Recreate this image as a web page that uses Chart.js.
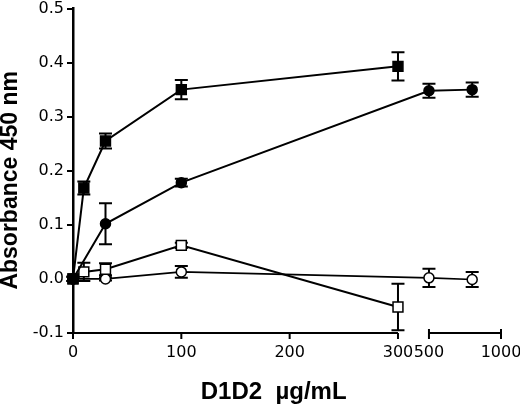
<!DOCTYPE html>
<html>
<head>
<meta charset="utf-8">
<script src="https://cdn.jsdelivr.net/npm/chart.js@4.4.0/dist/chart.umd.min.js"></script>
<style>
  html, body { margin: 0; padding: 0; background: #fff; }
  #wrap { width: 520px; height: 408px; }
</style>
</head>
<body>
<div id="wrap"><canvas id="chart"></canvas></div>
<script>
// D1D2 dose curves, absorbance at 450 nm. x axis is broken between 300 and 500.

const X_TICKS = [0, 100, 200, 300, 500, 1000];
const X_SEGMENTS = [[0, 300], [500, 1000]];
const Y_MIN = -0.1, Y_MAX = 0.5, Y_STEP = 0.1;

// filled squares
const filledSqX = [0, 10, 30, 100, 300];
const filledSqY = [0.000, 0.168, 0.255, 0.350, 0.393];
const filledSqErr = [0.004, 0.012, 0.014, 0.018, 0.026];

// filled circles
const filledCirX = [0, 30, 100, 500, 800];
const filledCirY = [0.000, 0.102, 0.178, 0.348, 0.350];
const filledCirErr = [0.004, 0.038, 0.007, 0.013, 0.013];

// open squares
const openSqX = [0, 10, 30, 100, 300];
const openSqY = [0.000, 0.013, 0.018, 0.062, -0.052];
const openSqErr = [0.004, 0.017, 0.011, 0.005, 0.043];

// open circles
const openCirX = [0, 30, 100, 500, 800];
const openCirY = [0.000, 0.000, 0.013, 0.002, -0.001];
const openCirErr = [0.000, 0.003, 0.011, 0.017, 0.014];

// axis break: 0-300 kept as is, 500-1000 squeezed after a gap
const BREAK_LOW = 300, BREAK_HIGH = 500, BREAK_GAP = 28.6, HIGH_SCALE = 0.133;
function toAxis(x) {
  return x <= BREAK_LOW ? x : BREAK_LOW + BREAK_GAP + (x - BREAK_HIGH) * HIGH_SCALE;
}

function pts(xs, ys) {
  return xs.map((x, i) => ({ x: toAxis(x), y: ys[i] }));
}

function series(xs, ys, errs, style, filled, radius, width) {
  return {
    data: pts(xs, ys),
    errors: errs,
    borderColor: '#000',
    borderWidth: width,
    backgroundColor: filled ? '#000' : '#fff',
    pointStyle: style,
    pointRadius: radius,
    pointBorderWidth: 1.5,
    pointBorderColor: '#000',
    pointBackgroundColor: filled ? '#000' : '#fff',
    tension: 0,
    fill: false,
    clip: false
  };
}

const errorBars = {
  id: 'errorBars',
  beforeDatasetsDraw(chart) {
    const ctx = chart.ctx, xs = chart.scales.x, ys = chart.scales.y;
    ctx.save();
    ctx.strokeStyle = '#000';
    ctx.lineWidth = 2;
    chart.data.datasets.forEach(ds => {
      ds.data.forEach((p, i) => {
        const e = ds.errors[i];
        if (!e) return;
        const px = xs.getPixelForValue(p.x);
        const top = ys.getPixelForValue(p.y + e);
        const bot = ys.getPixelForValue(p.y - e);
        ctx.beginPath();
        ctx.moveTo(px, top); ctx.lineTo(px, bot);
        ctx.moveTo(px - 6.5, top); ctx.lineTo(px + 6.5, top);
        ctx.moveTo(px - 6.5, bot); ctx.lineTo(px + 6.5, bot);
        ctx.stroke();
      });
    });
    ctx.restore();
  }
};

// x axis drawn in two pieces so the break shows
const brokenAxis = {
  id: 'brokenAxis',
  beforeDatasetsDraw(chart) {
    const ctx = chart.ctx, xs = chart.scales.x;
    const y = chart.chartArea.bottom;
    ctx.save();
    ctx.strokeStyle = '#000';
    ctx.lineWidth = 2.2;
    ctx.beginPath();
    X_SEGMENTS.forEach(([a, b]) => {
      ctx.moveTo(xs.getPixelForValue(toAxis(a)), y);
      ctx.lineTo(xs.getPixelForValue(toAxis(b)), y);
    });
    ctx.stroke();
    ctx.lineWidth = 2;
    ctx.beginPath();
    X_TICKS.forEach(v => {
      const px = xs.getPixelForValue(toAxis(v));
      const up = v > BREAK_LOW ? 4 : 0;
      ctx.moveTo(px, y - up);
      ctx.lineTo(px, y + 6);
    });
    ctx.stroke();
    ctx.restore();
  }
};

const TICK_FONT = 'DejaVu Sans, sans-serif';
const TITLE_FONT = 'Liberation Sans, Arial, sans-serif';

new Chart(document.getElementById('chart'), {
  type: 'line',
  data: {
    datasets: [
      series(filledSqX, filledSqY, filledSqErr, 'rect', true, 7, 2),
      series(filledCirX, filledCirY, filledCirErr, 'circle', true, 5, 2),
      series(openSqX, openSqY, openSqErr, 'rect', false, 7, 2),
      series(openCirX, openCirY, openCirErr, 'circle', false, 5, 1.6)
    ]
  },
  options: {
    responsive: true,
    maintainAspectRatio: false,
    animation: false,
    layout: { padding: { top: 7, right: 19, left: 0, bottom: 0 } },
    plugins: { legend: { display: false }, tooltip: { enabled: false } },
    scales: {
      x: {
        type: 'linear',
        min: 0,
        max: toAxis(1000),
        grid: { display: false },
        border: { display: false },
        afterBuildTicks(scale) {
          scale.ticks = X_TICKS.map(v => ({ value: toAxis(v) }));
        },
        afterFit(scale) {
          scale.height = 75;
          scale.paddingLeft = 0;
          scale.paddingRight = 0;
        },
        ticks: {
          autoSkip: false,
          maxRotation: 0,
          minRotation: 0,
          padding: 2,
          color: '#000',
          font: { family: TICK_FONT, size: 16 },
          callback: (value, index) => String(X_TICKS[index])
        },
        title: {
          display: true,
          // trailing spaces nudge the centred title left, as in the original
          text: 'D1D2  \u00b5g/mL    ',
          color: '#000',
          font: { family: TITLE_FONT, size: 24, weight: 'bold' },
          padding: { top: 0, bottom: 1 }
        }
      },
      y: {
        min: Y_MIN,
        max: Y_MAX,
        grid: { drawOnChartArea: false, drawTicks: true, tickLength: 6, color: '#000', lineWidth: 2 },
        border: { display: true, color: '#000', width: 2.5 },
        afterFit(scale) {
          scale.width = 73;
          scale.paddingTop = 0;
          scale.paddingBottom = 0;
        },
        ticks: {
          stepSize: Y_STEP,
          padding: 3,
          color: '#000',
          font: { family: TICK_FONT, size: 16 },
          callback: v => (Math.round(v * 10) / 10).toFixed(1)
        },
        title: {
          display: true,
          text: 'Absorbance 450 nm   ',
          color: '#000',
          font: { family: TITLE_FONT, size: 23, weight: 'bold' },
          padding: { top: -3, bottom: 0 }
        }
      }
    }
  },
  plugins: [errorBars, brokenAxis]
});
</script>
</body>
</html>
